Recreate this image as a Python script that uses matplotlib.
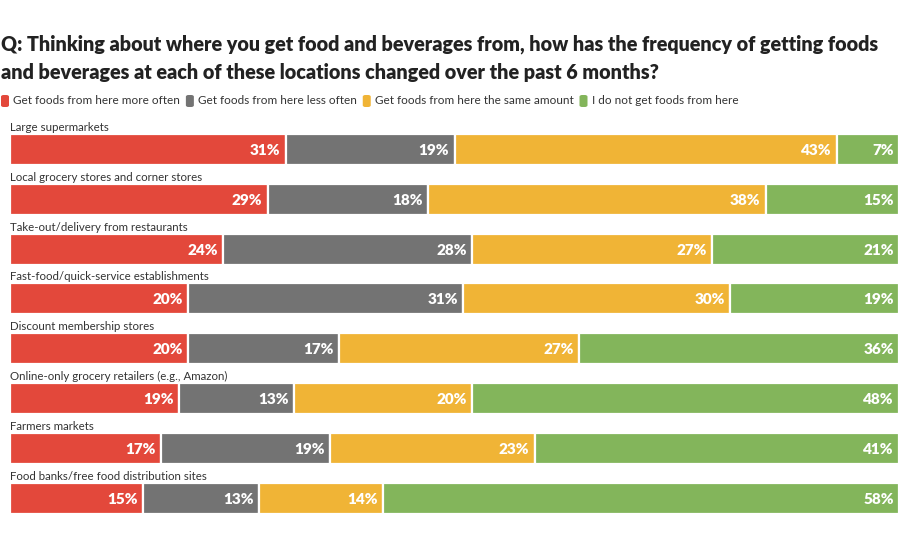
import matplotlib
matplotlib.use("Agg")
import matplotlib.pyplot as plt
from matplotlib.patches import FancyBboxPatch

categories = [
    "Large supermarkets",
    "Local grocery stores and corner stores",
    "Take-out/delivery from restaurants",
    "Fast-food/quick-service establishments",
    "Discount membership stores",
    "Online-only grocery retailers (e.g., Amazon)",
    "Farmers markets",
    "Food banks/free food distribution sites",
]
series_names = [
    "Get foods from here more often",
    "Get foods from here less often",
    "Get foods from here the same amount",
    "I do not get foods from here",
]
more_often = [31, 29, 24, 20, 20, 19, 17, 15]
less_often = [19, 18, 28, 31, 17, 13, 19, 13]
same_amount = [43, 38, 27, 30, 27, 20, 23, 14]
not_get = [7, 15, 21, 19, 36, 48, 41, 58]
series = [more_often, less_often, same_amount, not_get]
colors = ["#E3483B", "#737373", "#F0B436", "#83B55B"]

title = ("Q: Thinking about where you get food and beverages from, how has the frequency of getting foods\n"
         "and beverages at each of these locations changed over the past 6 months?")

plt.rcParams['font.family'] = ['Lato', 'DejaVu Sans']

W, H = 900, 550
fig = plt.figure(figsize=(9, 5.5), dpi=100)

# axes placement in pixels
row_gap = 49.8
top_px = 149.5 - 0.75 * row_gap
bot_px = 149.5 + 7 * row_gap + 0.5 * row_gap
left_px, right_px = 10, 899
ax = fig.add_axes([left_px / W, 1 - bot_px / H, (right_px - left_px) / W, (bot_px - top_px) / H])
ax.set_xlim(0, 100)
ax.set_ylim(7.5, -0.75)
ax.axis('off')

bh = 0.62
for i, cat in enumerate(categories):
    left = 0
    for s, vals in enumerate(series):
        v = vals[i]
        ax.barh(i, v, left=left, height=bh, color=colors[s], edgecolor='white', linewidth=1.6)
        ax.text(left + v - 0.6, i + 0.02, f"{v}%", ha='right', va='center', color='white',
                fontsize=11, fontweight='heavy')
        left += v
    ax.text(0, i - bh / 2 - 0.02, cat, ha='left', va='bottom', fontsize=8.3, color='#333333')

fig.text(1 / W, 1 - 35 / H, title, ha='left', va='top', fontsize=14.2, fontweight='heavy',
         color='#222222', linespacing=1.5)

# legend
lx = 1
ly = 1 - 101 / H
for s, name in enumerate(series_names):
    sq = FancyBboxPatch((lx / W, ly - 6 / H), 8 / W, 12 / H, boxstyle="round,pad=0,rounding_size=0.003",
                        transform=fig.transFigure, facecolor=colors[s], edgecolor='none')
    fig.patches.append(sq)
    t = fig.text((lx + 12) / W, ly, name, ha='left', va='center', fontsize=8.5, color='#333333')
    fig.canvas.draw()
    bb = t.get_window_extent()
    lx = bb.x1 + 6

fig.savefig("out.png", dpi=100)
